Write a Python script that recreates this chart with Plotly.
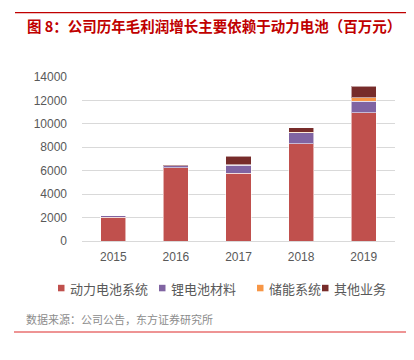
import plotly.graph_objects as go

years = ["2015", "2016", "2017", "2018", "2019"]
power_battery = [2010, 6250, 5800, 8300, 10950]
lithium_material = [140, 170, 680, 920, 980]
storage = [0, 0, 20, 60, 280]
other = [0, 30, 730, 400, 1020]

series_names = ["动力电池系统", "锂电池材料", "储能系统", "其他业务"]
colors = ["#C0504D", "#8064A2", "#F79646", "#772C2A"]
values = [power_battery, lithium_material, storage, other]

# The page body adds an 8px margin; work in screen pixels and compensate.
OFF = 8
W, H = 414 - OFF, 360 - OFF
PX0, PX1 = 82, 395      # plot area left/right in screen px
PY0, PY1 = 77, 241      # plot area top/bottom in screen px
L = PX0 - OFF
R = W - (PX1 - OFF)
T = PY0 - OFF
B = H - (PY1 - OFF)
pw = PX1 - PX0
ph = PY1 - PY0

def px2x(px):
    return (px - PX0) / pw

def py2y(py):
    return (PY1 - py) / ph

FONT = "Liberation Sans, Noto Sans CJK SC, sans-serif"
CJK = "Noto Sans CJK SC, sans-serif"

fig = go.Figure()
for name, col, vals in zip(series_names, colors, values):
    fig.add_trace(go.Bar(
        x=years, y=vals, name=name,
        marker=dict(color=col, line=dict(color="rgba(255,255,255,0.55)", width=1)),
        width=0.4,
    ))

fig.update_layout(
    width=W, height=H,
    barmode="stack",
    margin=dict(l=L, r=R, t=T, b=B),
    paper_bgcolor="white", plot_bgcolor="white",
    font=dict(family=FONT, size=12, color="#595959"),
    showlegend=False,
    xaxis=dict(
        showline=False, showgrid=False, ticks="", tickfont=dict(size=12, color="#595959"),
        ticklabelstandoff=7,
    ),
    yaxis=dict(
        range=[0, 14000], dtick=2000, tickformat="d", showgrid=True, gridcolor="#D9D9D9", gridwidth=1,
        zeroline=True, zerolinecolor="#D9D9D9", zerolinewidth=1,
        showline=False, ticks="", tickfont=dict(size=12, color="#595959"),
        ticklabelstandoff=14,
    ),
)

# Legend (drawn manually to match the compact layout)
legend_sq_x = [58, 159, 257, 322]
legend_txt_x = [68, 169, 267, 332]
for name, col, sx, tx in zip(series_names, colors, legend_sq_x, legend_txt_x):
    fig.add_shape(type="rect", xref="paper", yref="paper",
                  x0=px2x(sx), x1=px2x(sx + 6.5), y0=py2y(291.3), y1=py2y(284.8),
                  fillcolor=col, line=dict(width=0))
    fig.add_annotation(
        text=name, xref="paper", yref="paper", x=px2x(tx), y=py2y(288),
        xanchor="left", yanchor="middle", showarrow=False,
        font=dict(family=CJK, size=13, color="#595959"),
    )

# Title
fig.add_annotation(
    text="<b>图 8：公司历年毛利润增长主要依赖于动力电池（百万元）</b>",
    xref="paper", yref="paper", x=px2x(25), y=py2y(25.5),
    xanchor="left", yanchor="middle", showarrow=False,
    font=dict(family=CJK, size=14.5, color="#C00000"),
)
# Source
fig.add_annotation(
    text="数据来源：公司公告，东方证券研究所",
    xref="paper", yref="paper", x=px2x(24), y=py2y(319),
    xanchor="left", yanchor="middle", showarrow=False,
    font=dict(family=CJK, size=11, color="#8C8C8C"),
)
# Red rules
fig.add_shape(type="line", xref="paper", yref="paper",
              x0=px2x(15), x1=px2x(414), y0=py2y(12.7), y1=py2y(12.7),
              line=dict(color="#C00000", width=1.3))
fig.add_shape(type="line", xref="paper", yref="paper",
              x0=px2x(14), x1=px2x(414), y0=py2y(332), y1=py2y(332),
              line=dict(color="#E87070", width=1.5))

fig.write_html("out.html")
